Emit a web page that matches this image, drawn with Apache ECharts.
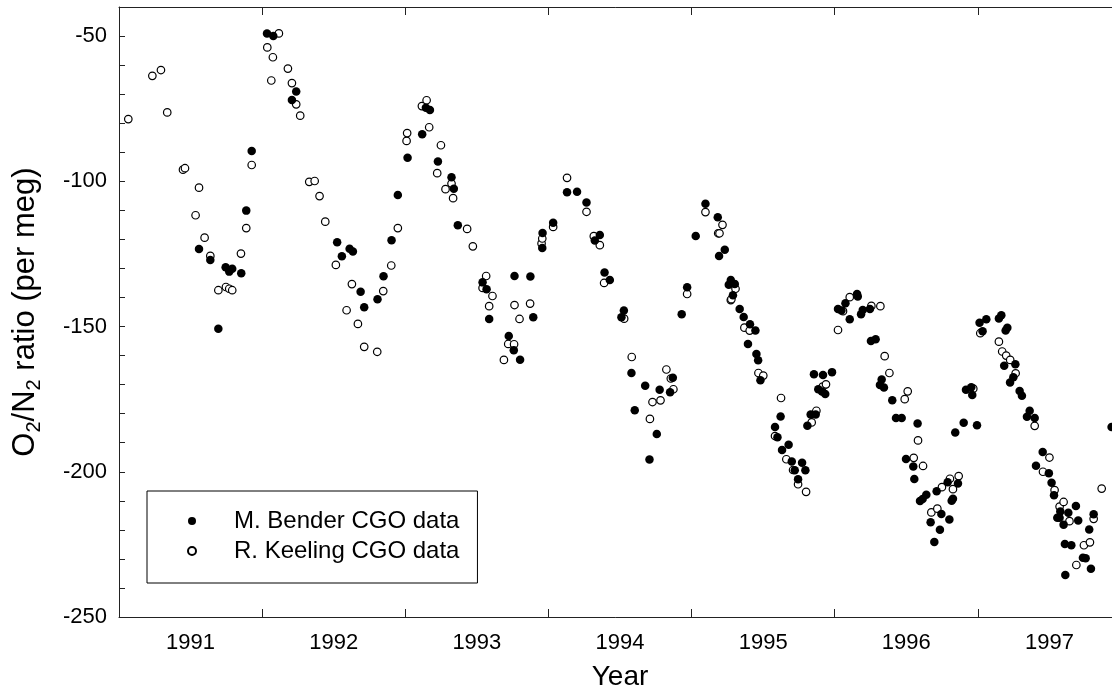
<!DOCTYPE html>
<html>
<head>
<meta charset="utf-8">
<script src="https://cdn.jsdelivr.net/npm/echarts@6/dist/echarts.min.js"></script>
<style>
html,body{margin:0;padding:0;background:#fff;}
#chart{width:1112px;height:692px;}
</style>
</head>
<body>
<div id="chart"></div>
<script>
// Data: [decimal year, O2/N2 ratio (per meg)]
const benderData = [
[1991.559,-123.3],[1991.638,-127.1],[1991.694,-150.8],[1991.745,-129.6],[1991.770,-131.1],[1991.791,-130.1],[1991.854,-131.7],[1991.889,-110.1],[1991.927,-89.6],
[1992.034,-49.1],[1992.078,-50.0],[1992.238,-69.1],[1992.208,-72.0],[1992.524,-121.0],[1992.557,-125.8],[1992.611,-123.2],[1992.634,-124.2],[1992.688,-138.0],[1992.713,-143.4],[1992.806,-140.6],[1992.848,-132.7],[1992.904,-120.3],[1992.948,-104.7],
[1993.016,-91.9],[1993.118,-83.8],[1993.144,-74.7],[1993.172,-75.5],[1993.228,-93.2],[1993.323,-98.6],[1993.339,-102.6],[1993.367,-115.1],[1993.540,-134.8],[1993.568,-137.2],[1993.586,-147.4],[1993.723,-153.3],[1993.758,-158.2],[1993.802,-161.4],[1993.763,-132.6],[1993.874,-132.8],[1993.894,-146.8],[1993.959,-117.8],[1993.957,-123.0],
[1994.033,-114.3],[1994.130,-103.8],[1994.200,-103.6],[1994.266,-107.3],[1994.359,-118.5],[1994.324,-120.4],[1994.392,-131.4],[1994.429,-134.0],[1994.527,-144.5],[1994.510,-146.8],[1994.580,-166.0],[1994.603,-178.8],[1994.676,-170.4],[1994.706,-195.8],[1994.757,-187.0],[1994.777,-171.8],[1994.850,-172.6],[1994.869,-167.6],[1994.931,-145.8],[1994.969,-136.5],
[1995.029,-118.8],[1995.097,-107.7],[1995.183,-112.4],[1995.192,-125.7],[1995.232,-123.6],[1995.260,-135.6],[1995.274,-134.0],[1995.289,-139.2],[1995.302,-135.4],[1995.336,-144.0],[1995.364,-146.7],[1995.394,-156.0],[1995.408,-149.2],[1995.446,-151.4],[1995.453,-159.5],[1995.465,-161.6],[1995.481,-168.5],[1995.583,-184.6],[1995.600,-188.1],[1995.622,-181.0],[1995.632,-192.5],[1995.678,-190.7],[1995.700,-196.5],[1995.721,-199.5],[1995.744,-202.6],[1995.772,-196.9],[1995.795,-199.5],[1995.809,-184.2],[1995.832,-180.3],[1995.855,-166.4],[1995.867,-180.3],[1995.885,-171.6],[1995.911,-172.4],[1995.918,-166.7],[1995.934,-173.2],[1995.981,-165.7],
[1996.023,-144.0],[1996.047,-144.5],[1996.075,-142.0],[1996.105,-147.5],[1996.156,-138.8],[1996.161,-139.7],[1996.184,-145.8],[1996.196,-144.3],[1996.246,-144.0],[1996.253,-155.0],[1996.286,-154.4],[1996.316,-170.1],[1996.328,-168.2],[1996.344,-171.0],[1996.402,-175.4],[1996.428,-181.5],[1996.468,-181.5],[1996.498,-195.6],[1996.549,-198.2],[1996.556,-202.5],[1996.579,-183.4],[1996.596,-210.1],[1996.614,-209.4],[1996.640,-207.9],[1996.670,-217.4],[1996.696,-224.2],[1996.712,-206.7],[1996.735,-220.0],[1996.745,-214.5],[1996.789,-203.6],[1996.801,-216.4],[1996.817,-210.0],[1996.826,-209.3],[1996.842,-186.5],[1996.861,-204.0],[1996.901,-183.1],[1996.917,-171.8],[1996.954,-170.9],[1996.961,-173.6],[1996.994,-184.0],
[1997.012,-148.7],[1997.033,-151.6],[1997.059,-147.5],[1997.147,-147.2],[1997.164,-146.1],[1997.184,-163.5],[1997.194,-151.4],[1997.206,-150.4],[1997.225,-169.3],[1997.248,-167.5],[1997.262,-163.0],[1997.292,-172.2],[1997.308,-173.8],[1997.343,-181.1],[1997.362,-179.0],[1997.397,-181.5],[1997.406,-197.9],[1997.453,-193.2],[1997.496,-200.5],[1997.515,-203.8],[1997.532,-208.1],[1997.555,-215.8],[1997.571,-215.8],[1997.576,-213.7],[1997.599,-218.2],[1997.608,-224.9],[1997.611,-235.5],[1997.632,-214.1],[1997.653,-225.3],[1997.685,-211.8],[1997.701,-216.8],[1997.734,-229.6],[1997.753,-229.8],[1997.778,-219.9],[1997.790,-233.4],[1997.809,-214.6],[1997.934,-184.6]
];
const keelingData = [
[1991.065,-78.6],[1991.233,-63.7],[1991.293,-61.7],[1991.337,-76.3],[1991.447,-96.0],[1991.461,-95.5],[1991.535,-111.7],[1991.559,-102.2],[1991.598,-119.4],[1991.638,-125.7],[1991.694,-137.5],[1991.747,-136.4],[1991.770,-137.0],[1991.791,-137.5],[1991.852,-124.9],[1991.889,-116.1],[1991.927,-94.4],
[1992.036,-53.9],[1992.064,-65.3],[1992.075,-57.3],[1992.117,-49.1],[1992.180,-61.2],[1992.208,-66.2],[1992.238,-73.5],[1992.266,-77.4],[1992.329,-100.2],[1992.367,-99.9],[1992.401,-105.1],[1992.441,-113.9],[1992.515,-128.8],[1992.590,-144.4],[1992.627,-135.4],[1992.669,-149.1],[1992.713,-157.0],[1992.804,-158.7],[1992.846,-137.8],[1992.902,-129.0],[1992.948,-116.1],
[1993.009,-86.1],[1993.013,-83.4],[1993.116,-74.1],[1993.149,-72.1],[1993.167,-81.4],[1993.223,-97.2],[1993.249,-87.6],[1993.281,-102.7],[1993.323,-100.8],[1993.334,-105.8],[1993.432,-116.4],[1993.472,-122.4],[1993.540,-136.7],[1993.565,-132.6],[1993.586,-143.0],[1993.609,-139.5],[1993.689,-161.5],[1993.719,-156.0],[1993.760,-156.1],[1993.763,-142.6],[1993.798,-147.4],[1993.872,-142.1],[1993.952,-121.4],[1993.957,-119.7],
[1994.033,-115.7],[1994.130,-98.8],[1994.266,-110.5],[1994.317,-118.9],[1994.359,-122.0],[1994.389,-135.0],[1994.529,-147.3],[1994.582,-160.5],[1994.709,-181.8],[1994.727,-176.0],[1994.783,-175.4],[1994.824,-164.8],[1994.855,-167.9],[1994.873,-171.6],[1994.969,-138.8],
[1995.097,-110.6],[1995.186,-117.9],[1995.195,-117.9],[1995.216,-115.0],[1995.274,-140.9],[1995.278,-140.6],[1995.307,-137.0],[1995.369,-150.4],[1995.406,-151.4],[1995.467,-166.0],[1995.501,-166.9],[1995.583,-187.7],[1995.625,-174.6],[1995.662,-195.7],[1995.709,-199.4],[1995.744,-204.3],[1995.800,-206.9],[1995.839,-183.0],[1995.872,-179.0],[1995.916,-170.7],[1995.939,-169.9],
[1996.023,-151.2],[1996.058,-144.7],[1996.105,-139.9],[1996.256,-142.9],[1996.319,-143.0],[1996.349,-160.2],[1996.382,-166.0],[1996.489,-175.0],[1996.510,-172.3],[1996.552,-195.2],[1996.582,-189.2],[1996.617,-198.0],[1996.675,-214.0],[1996.717,-212.7],[1996.749,-205.3],[1996.805,-202.4],[1996.826,-206.0],[1996.866,-201.5],[1996.968,-171.4],
[1997.017,-152.3],[1997.147,-155.2],[1997.170,-158.6],[1997.198,-160.0],[1997.226,-161.5],[1997.264,-166.1],[1997.397,-184.2],[1997.455,-200.0],[1997.500,-195.1],[1997.536,-206.3],[1997.571,-212.0],[1997.599,-210.4],[1997.640,-217.0],[1997.688,-232.1],[1997.741,-225.3],[1997.783,-224.3],[1997.809,-216.2],[1997.865,-205.8]
];
const seriesNames = ['M. Bender CGO data', 'R. Keeling CGO data'];
const xRange = [1991, 1998];
const yRange = [-250, -40];
const yLabelStep = 50;

const FONT = '"Liberation Sans", Arial, sans-serif';
const AX = '#222';

const chart = echarts.init(document.getElementById('chart'), null, {renderer: 'canvas'});
const baseX = {
  type: 'value', min: xRange[0], max: xRange[1], splitLine: {show: false}
};
chart.setOption({
  animation: false,
  backgroundColor: '#fff',
  grid: {left: 119, top: 7, height: 610, width: 1002, containLabel: false, outerBoundsMode: 'none'},
  legend: {
    orient: 'vertical', left: 147, top: 491,
    data: seriesNames,
    itemWidth: 8, itemHeight: 8, itemGap: 6,
    padding: [18, 18, 20, 40],
    borderColor: '#000', borderWidth: 1, backgroundColor: '#fff',
    textStyle: {fontFamily: FONT, fontSize: 24, color: '#000', padding: [0, 0, 0, 33]}
  },
  xAxis: [
    Object.assign({}, baseX, {
      position: 'bottom', interval: 0.5,
      axisLine: {show: true, lineStyle: {color: AX, width: 1}},
      axisTick: {show: false},
      axisLabel: {
        fontFamily: FONT, fontSize: 22, color: '#000', margin: 15,
        formatter: v => (Math.abs((v % 1) - 0.5) < 1e-6 ? String(Math.floor(v)) : '')
      },
      name: 'Year', nameLocation: 'middle', nameGap: 46,
      nameTextStyle: {fontFamily: FONT, fontSize: 28, color: '#000'}
    }),
    Object.assign({}, baseX, {
      position: 'bottom', interval: 1,
      axisLine: {show: false},
      axisTick: {show: true, inside: true, length: 8, lineStyle: {color: AX, width: 1}},
      axisLabel: {show: false}
    }),
    Object.assign({}, baseX, {
      position: 'top', interval: 1,
      axisLine: {show: true, lineStyle: {color: AX, width: 1}},
      axisTick: {show: true, inside: true, length: 8, lineStyle: {color: AX, width: 1}},
      axisLabel: {show: false}
    })
  ],
  yAxis: {
    type: 'value', min: yRange[0], max: yRange[1], interval: 10,
    splitLine: {show: false},
    axisLine: {show: true, lineStyle: {color: AX, width: 1}},
    axisTick: {show: true, inside: true, length: 6, lineStyle: {color: AX, width: 1}},
    axisLabel: {
      fontFamily: FONT, fontSize: 22, color: '#000', margin: 12,
      formatter: v => (v % yLabelStep === 0 ? String(v) : '')
    },
    name: '{n|O}{s|2}{n|/N}{s|2}{n| ratio (per meg)}',
    nameLocation: 'middle', nameGap: 78, nameRotate: 90,
    nameTextStyle: {
      fontFamily: FONT, fontSize: 31, color: '#000',
      rich: {
        n: {fontFamily: FONT, fontSize: 31, color: '#000', lineHeight: 31, verticalAlign: 'top'},
        s: {fontFamily: FONT, fontSize: 20, color: '#000', lineHeight: 20, verticalAlign: 'top', padding: [14, 0, 0, 0]}
      }
    }
  },
  series: [
    {
      name: seriesNames[1], type: 'scatter', xAxisIndex: 0, data: keelingData,
      symbol: 'circle', symbolSize: 7.5,
      itemStyle: {color: '#fff', borderColor: '#000', borderWidth: 1.2, opacity: 1}
    },
    {
      name: seriesNames[0], type: 'scatter', xAxisIndex: 0, data: benderData,
      symbol: 'circle', symbolSize: 8.5,
      itemStyle: {color: '#000', opacity: 1}
    }
  ]
});
</script>
</body>
</html>
